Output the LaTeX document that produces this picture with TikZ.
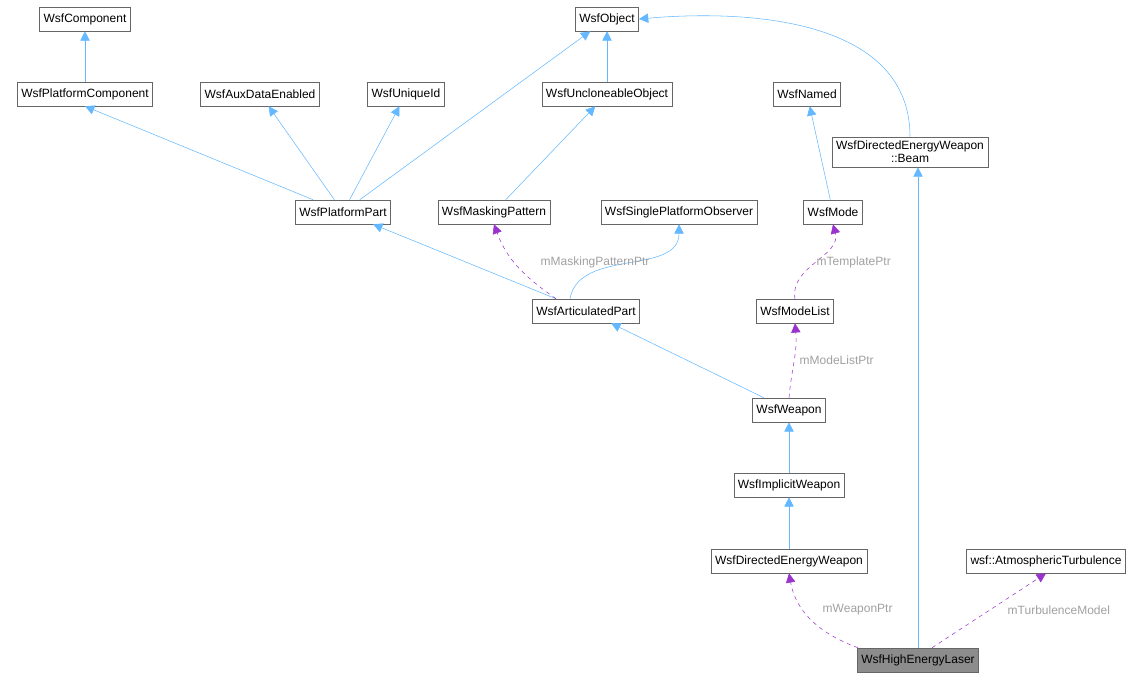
\documentclass[tikz,border=0pt]{standalone}
\usepackage{fontspec}
\setmainfont{Liberation Sans}
\usetikzlibrary{arrows.meta}

\definecolor{inh}{HTML}{63B8FF}
\definecolor{use}{HTML}{9A32CD}
\definecolor{lbl}{HTML}{A0A0A0}

\tikzset{
	cls/.style={draw=black!60, fill=white, font=\fontsize{9}{10}\selectfont, inner sep=3pt, minimum height=18pt, align=center},
	isa/.style={draw=inh, thin, -{Triangle[length=7pt,width=7pt]}},
	has/.style={draw=use, thin, dashed, -{Triangle[length=7pt,width=7pt]}},
	tag/.style={text=lbl, font=\fontsize{9}{10}\selectfont}
}

\begin{document}
\begin{tikzpicture}[x=0.75pt, y=-0.75pt]
		\useasboundingbox (0,0) rectangle (1148,679);

		\node[cls] (comp) at (85,19) {WsfComponent};
		\node[cls] (pcomp) at (85,94) {WsfPlatformComponent};
		\node[cls] (aux) at (260,94) {WsfAuxDataEnabled};
		\node[cls] (uid) at (406,94) {WsfUniqueId};
		\node[cls] (obj) at (607,19) {WsfObject};
		\node[cls] (uncl) at (607,94) {WsfUncloneableObject};
		\node[cls] (named) at (807,94) {WsfNamed};
		\node[cls] (beam) at (910,152) {WsfDirectedEnergyWeapon\\::Beam};
		\node[cls] (ppart) at (343,212) {WsfPlatformPart};
		\node[cls] (mask) at (494,212) {WsfMaskingPattern};
		\node[cls] (spo) at (679,212) {WsfSinglePlatformObserver};
		\node[cls] (mode) at (833,212) {WsfMode};
		\node[cls] (apart) at (586,311) {WsfArticulatedPart};
		\node[cls] (mlist) at (795,311) {WsfModeList};
		\node[cls] (weap) at (789,410) {WsfWeapon};
		\node[cls] (impl) at (789,485) {WsfImplicitWeapon};
		\node[cls] (dew) at (789,561) {WsfDirectedEnergyWeapon};
		\node[cls] (atm) at (1046,561) {wsf::AtmosphericTurbulence};
		\node[cls, fill=black!45] (hel) at (918,660) {WsfHighEnergyLaser};

		% inheritance
		\draw[isa] (pcomp) -- (comp);
		\draw[isa] (ppart) -- (pcomp.south);
		\draw[isa] (ppart) -- (aux);
		\draw[isa] (ppart) -- (uid);
		\draw[isa] (ppart) -- (obj);
		\draw[isa] (uncl) -- (obj);
		\draw[isa] (mask) -- (uncl);
		\draw[isa] (beam.north) to[out=90, in=5] (obj.east);
		\draw[isa] (mode) -- (named);
		\draw[isa] (apart) -- (ppart);
		\draw[isa] (apart.north) ++(-16,0) to[out=80, in=-90] (spo.south);
		\draw[isa] (weap) -- (apart);
		\draw[isa] (impl) -- (weap);
		\draw[isa] (dew) -- (impl);
		\draw[isa] (hel.north) -- (hel.north |- beam.south);

		% members
		\draw[has] (apart.north) ++(-30,0) coordinate (m1) to[out=145, in=-70] (mask.south);
		\node[tag, anchor=west] (t1) at (536,262) {mMaskingPatternPtr};
		\draw[has] (mlist.north) to[out=100, in=-75] (mode.south);
		\node[tag, anchor=west] (t2) at (812,262) {mTemplatePtr};
		\draw[has] (weap.north) to[out=85, in=-85] (mlist.south);
		\node[tag, anchor=west] (t3) at (795,360) {mModeListPtr};
		\draw[has] (hel.north) ++(-60,0) coordinate (m2) to[out=160, in=-80] (dew.south);
		\node[tag, anchor=west] (t4) at (818,610) {mWeaponPtr};
		\draw[has] (hel.north) ++(14,0) -- (atm.south);
		\node[tag, anchor=west] (t5) at (1003,610) {mTurbulenceModel};
	\end{tikzpicture}
\end{document}
